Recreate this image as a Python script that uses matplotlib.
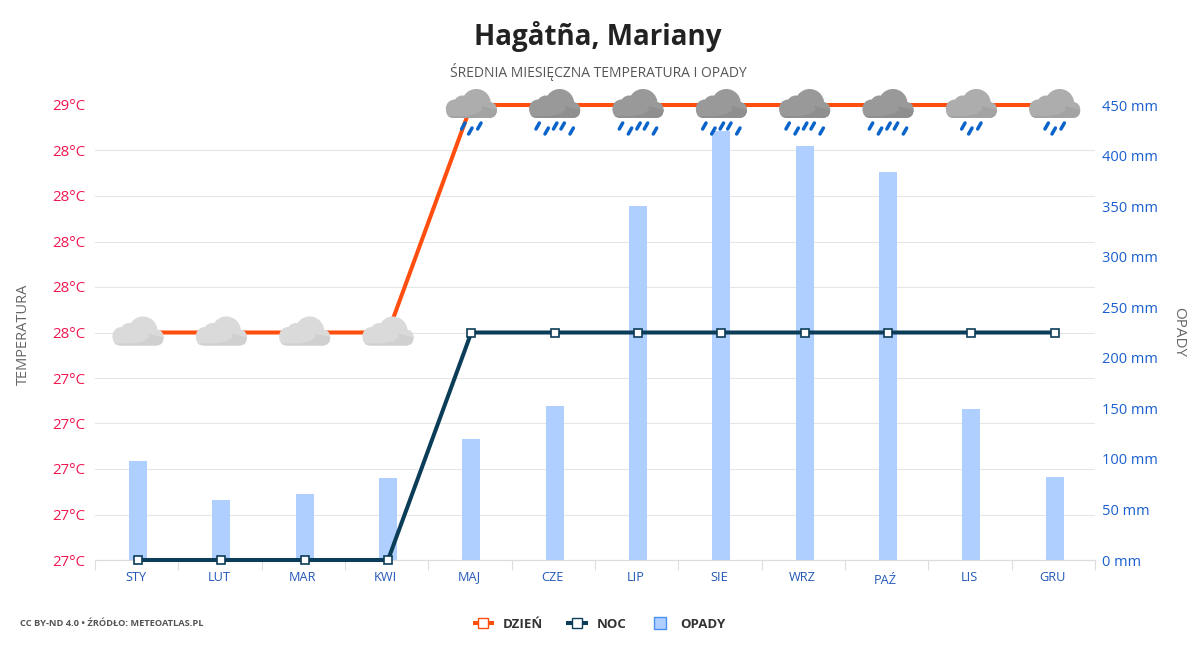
import numpy as np
import matplotlib
matplotlib.use("Agg")
import matplotlib.pyplot as plt
from matplotlib.lines import Line2D
from matplotlib.patches import Circle, FancyBboxPatch

plt.rcParams["font.family"] = ["Open Sans", "DejaVu Sans"]

months = ["STY", "LUT", "MAR", "KWI", "MAJ", "CZE", "LIP", "SIE", "WRZ", "PAŹ", "LIS", "GRU"]
day_temp = [28, 28, 28, 28, 29, 29, 29, 29, 29, 29, 29, 29]
night_temp = [27, 27, 27, 27, 28, 28, 28, 28, 28, 28, 28, 28]
rain = [98, 59, 65, 81, 120, 152, 350, 424, 409, 384, 149, 82]
temp_ticks = [27.0, 27.2, 27.4, 27.6, 27.8, 28.0, 28.2, 28.4, 28.6, 28.8, 29.0]
temp_labels = ["27°C"] * 5 + ["28°C"] * 5 + ["29°C"]
rain_ticks = [0, 50, 100, 150, 200, 250, 300, 350, 400, 450]
# ikony pogody: odcien chmury i liczba kropel dla kazdego miesiaca
icon_shade = ["light"] * 4 + ["mid"] + ["dark"] * 5 + ["mid"] * 2
icon_drops = [0, 0, 0, 0, 3, 5, 5, 5, 5, 5, 3, 3]

DAY = "#ff4e0d"
NIGHT = "#0c3d58"
BAR = "#aecfff"
BAR_EDGE = "#4a90f0"
RED = "#f0174f"
BLUE = "#1a5fd0"
XBLUE = "#2458b8"
GREY = "#666666"
SHADES = {"light": ("#dadada", "#d0d0d0"), "mid": ("#adadad", "#a3a3a3"), "dark": ("#999999", "#8f8f8f")}
DROP_X = {3: [-8, -1, 8], 5: [-17, -8, 0.5, 8, 17]}
DROP_Y = {3: [21, 26, 21], 5: [21, 26, 21, 21, 26]}

W, H = 1200, 650
fig = plt.figure(figsize=(12, 6.5), dpi=100, facecolor="#ffffff")
ax = fig.add_axes([95 / W, 1 - 560 / H, 1000 / W, 455 / H])
ax2 = ax.twinx()
ax.set_zorder(ax2.get_zorder() + 1)
ax.patch.set_visible(False)

x = np.arange(12) + 0.016

# opady na osi prawej, siatka wg podzialki temperatury (pod slupkami)
ax2.bar(x, rain, width=18 / (1000 / 12), color=BAR, zorder=3)
ax2.set_ylim(0, 450)
ax2.set_yticks(rain_ticks)
ax2.set_yticklabels([f"{v} mm" for v in rain_ticks], color=BLUE, fontsize=10.5)
ax2.tick_params(axis="y", length=0, pad=5)
ax2.set_yticks([(t - 27) / 2 * 450 for t in temp_ticks], minor=True)
ax2.tick_params(axis="y", which="minor", length=0)
ax2.grid(True, axis="y", which="minor", color="#e6e6e6", lw=0.8, zorder=0)
ax2.set_axisbelow(True)

ax.plot(x, day_temp, color=DAY, lw=2.9, marker="s", ms=6, mfc="#ffffff", mec=DAY, mew=1.2,
        clip_on=False, zorder=4)
ax.plot(x, night_temp, color=NIGHT, lw=2.9, marker="s", ms=6, mfc="#ffffff", mec=NIGHT, mew=1.2,
        clip_on=False, zorder=5)
ax.set_xlim(-0.5, 11.5)
ax.set_ylim(27, 29)
ax.set_yticks(temp_ticks)
ax.set_yticklabels(temp_labels, color=RED, fontsize=10.8)
ax.tick_params(axis="y", length=0, pad=7)

# podzialka na granicach miesiecy, etykiety na srodku
ax.set_xticks(np.arange(13) - 0.5)
ax.set_xticklabels([])
ax.tick_params(axis="x", which="major", length=7.5, width=0.8, color="#dddddd")
ax.set_xticks(np.arange(12) - 0.012, minor=True)
ax.set_xticklabels(months, minor=True, color=XBLUE, fontsize=9.2, va="baseline")
ax.tick_params(axis="x", which="minor", length=0, pad=14.8)
ax.xaxis.get_minor_ticks()[months.index("PAŹ")].set_pad(17)

for a in (ax, ax2):
    for name, sp in a.spines.items():
        sp.set_visible(name == "bottom")
        sp.set_color("#dddddd")

# warstwa w pikselach na ikony pogody
ov = fig.add_axes([0, 0, 1, 1], facecolor="none", zorder=10)
ov.set_xlim(0, W)
ov.set_ylim(H, 0)
ov.axis("off")


def draw_icon(cx, cy, shade, drops):
    top, low = SHADES[shade]
    base = FancyBboxPatch((cx - 25.3, cy - 3), 50.8, 16, boxstyle="round,pad=0,rounding_size=8",
                          fc=top, ec="none")
    ov.add_patch(base)
    ov.add_patch(Circle((cx + 5, cy - 1.5), 14.5, fc=top, ec="none"))
    ov.add_patch(Circle((cx - 16.5, cy + 3.5), 9, fc=top, ec="none"))
    ov.add_patch(Circle((cx - 9, cy - 1), 8.5, fc=top, ec="none"))
    ov.add_patch(Circle((cx + 17.5, cy + 5), 8, fc=top, ec="none"))
    # ciemniejszy dol chmury
    shadow = ov.fill([cx - 26, cx - 6, cx + 5, cx + 11, cx + 10, cx + 26, cx + 26, cx - 26],
                     [cy + 11, cy + 11, cy + 9, cy + 5, cy + 1, cy + 5, cy + 14, cy + 14],
                     color=low, ec="none")[0]
    shadow.set_clip_path(base)
    for dx, dy in zip(DROP_X.get(drops, []), DROP_Y.get(drops, [])):
        ov.plot([cx + dx - 1.7, cx + dx + 1.7], [cy + dy + 3, cy + dy - 3], color="#0a63c9",
                lw=2.5, solid_capstyle="round")


fig.canvas.draw()
for xi, t, shade, n in zip(x, day_temp, icon_shade, icon_drops):
    px, py = ax.transData.transform((xi, t))
    draw_icon(px, H - py, shade, n)

ov.set_xlim(0, W)
ov.set_ylim(H, 0)


def ptext(px, py, s, **kw):
    fig.text(px / W, 1 - py / H, s, ha=kw.pop("ha", "center"), va=kw.pop("va", "center"), **kw)


ptext(598, 36, "Hagåtña, Mariany", fontsize=20, fontweight="bold", color="#222222")
ptext(598, 72, "ŚREDNIA MIESIĘCZNA TEMPERATURA I OPADY", fontsize=10, color="#555555")
ptext(23, 334.5, "TEMPERATURA", fontsize=10.5, color=GREY, rotation=90)
ptext(1179, 332, "OPADY", fontsize=11, color=GREY, rotation=270)
ptext(20, 624, "CC BY-ND 4.0 • ŹRÓDŁO: METEOATLAS.PL", ha="left", fontsize=6.7, fontweight="bold", color="#555555")

handles = [Line2D([0], [0], color=DAY, lw=2.9, marker="s", ms=7, mfc="#ffffff", mec=DAY, solid_capstyle="butt"),
           Line2D([0], [0], color=NIGHT, lw=2.9, marker="s", ms=7, mfc="#ffffff", mec=NIGHT, solid_capstyle="butt"),
           Line2D([0], [0], lw=0, marker="s", ms=8.4, mfc=BAR, mec=BAR_EDGE)]
fig.legend(handles, ["DZIEŃ", "NOC", "OPADY"], loc="center", bbox_to_anchor=(599 / W, 1 - 624 / H),
           ncol=3, frameon=False, handlelength=1.6, handleheight=1.0, handletextpad=0.7, columnspacing=1.75,
           prop={"size": 9.5, "weight": "bold"}, labelcolor="#333333")

fig.savefig("out.png", dpi=100, facecolor="#ffffff")
